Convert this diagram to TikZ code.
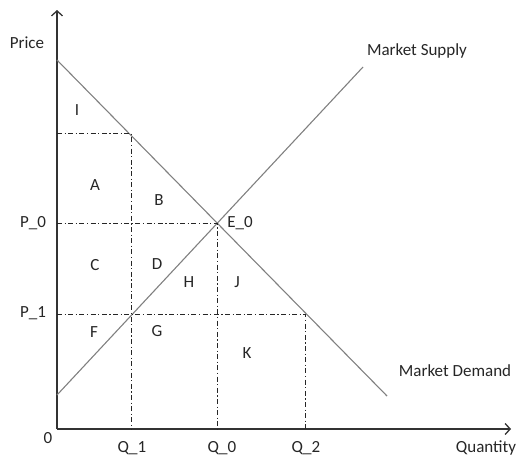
\documentclass[tikz,border=0pt]{standalone}
\usepackage{fontspec}
\setmainfont{Carlito}
\usetikzlibrary{
  arrows.meta,
  positioning,
  calc
}
\definecolor{mktdark}{HTML}{262626}
\definecolor{mktgray}{HTML}{808080}
\definecolor{mktaxis}{HTML}{333333}

\begin{document}
\begin{tikzpicture}[
      x=1pt, y=-1pt,
      axis/.style={-{Straight Barb[length=5pt,width=11pt]}, line width=1.3pt, mktaxis},
      curve/.style={line width=1.1pt, mktgray},
      guide/.style={line width=0.8pt, mktdark, dash pattern=on 5pt off 2.5pt on 1.2pt off 2.5pt},
      lbl/.style={font=\fontsize{17}{19}\selectfont, text=mktdark, inner sep=0pt}
    ]
      \useasboundingbox (0,0) rectangle (516,458);

      % axes
      \coordinate (origin) at (57,429);
      \coordinate (ytop) at (57,10);
      \coordinate (xend) at (511,429);
      \draw[axis] (origin) -- (ytop);
      \draw[axis] (origin) -- (xend);

      % supply and demand
      \coordinate (dtop) at (57,60);
      \coordinate (dbot) at (387,396);
      \coordinate (stop) at (363,67);
      \coordinate (sbot) at (57,395);
      \draw[curve] (dtop) -- (dbot);
      \draw[curve] (sbot) -- (stop);

      % points on the curves
      \coordinate (e0) at (217,223);
      \coordinate (dq1) at (131,133);
      \coordinate (sq1) at (131,314);
      \coordinate (dq2) at (305,314);
      \coordinate (yq1) at (57,133);
      \coordinate (yp0) at (57,223);
      \coordinate (yp1) at (57,314);
      \coordinate (xq1) at (131,429);
      \coordinate (xq0) at (217,429);
      \coordinate (xq2) at (305,429);

      \draw[guide] (yq1) -- (dq1) -- (xq1);
      \draw[guide] (yp0) -- (e0) -- (xq0);
      \draw[guide] (yp1) -- (dq2) -- (xq2);

      % axis labels
      \node[lbl] (price) at (27,43) {Price};
      \node[lbl] (quantity) at (486,448) {Quantity};
      \node[lbl] (zero) at (48,438) {0};
      \node[lbl] (p0) at (33,223) {P\_0};
      \node[lbl] (p1) at (33,313) {P\_1};
      \node[lbl] (q1) at (132,448) {Q\_1};
      \node[lbl] (q0) at (222,448) {Q\_0};
      \node[lbl] (q2) at (306,448) {Q\_2};
      \node[lbl] (e0lbl) at (240,223) {E\_0};
      \node[lbl] (supply) at (417,51) {Market Supply};
      \node[lbl] (demand) at (455,371) {Market Demand};

      % areas
      \node[lbl] (areaI) at (77,110) {I};
      \node[lbl] (areaA) at (95,185) {A};
      \node[lbl] (areaB) at (159,200) {B};
      \node[lbl] (areaC) at (95,265) {C};
      \node[lbl] (areaD) at (157,264) {D};
      \node[lbl] (areaH) at (189,282) {H};
      \node[lbl] (areaJ) at (237,282) {J};
      \node[lbl] (areaF) at (94,332) {F};
      \node[lbl] (areaG) at (157,331) {G};
      \node[lbl] (areaK) at (247,353) {K};
    \end{tikzpicture}
\end{document}
